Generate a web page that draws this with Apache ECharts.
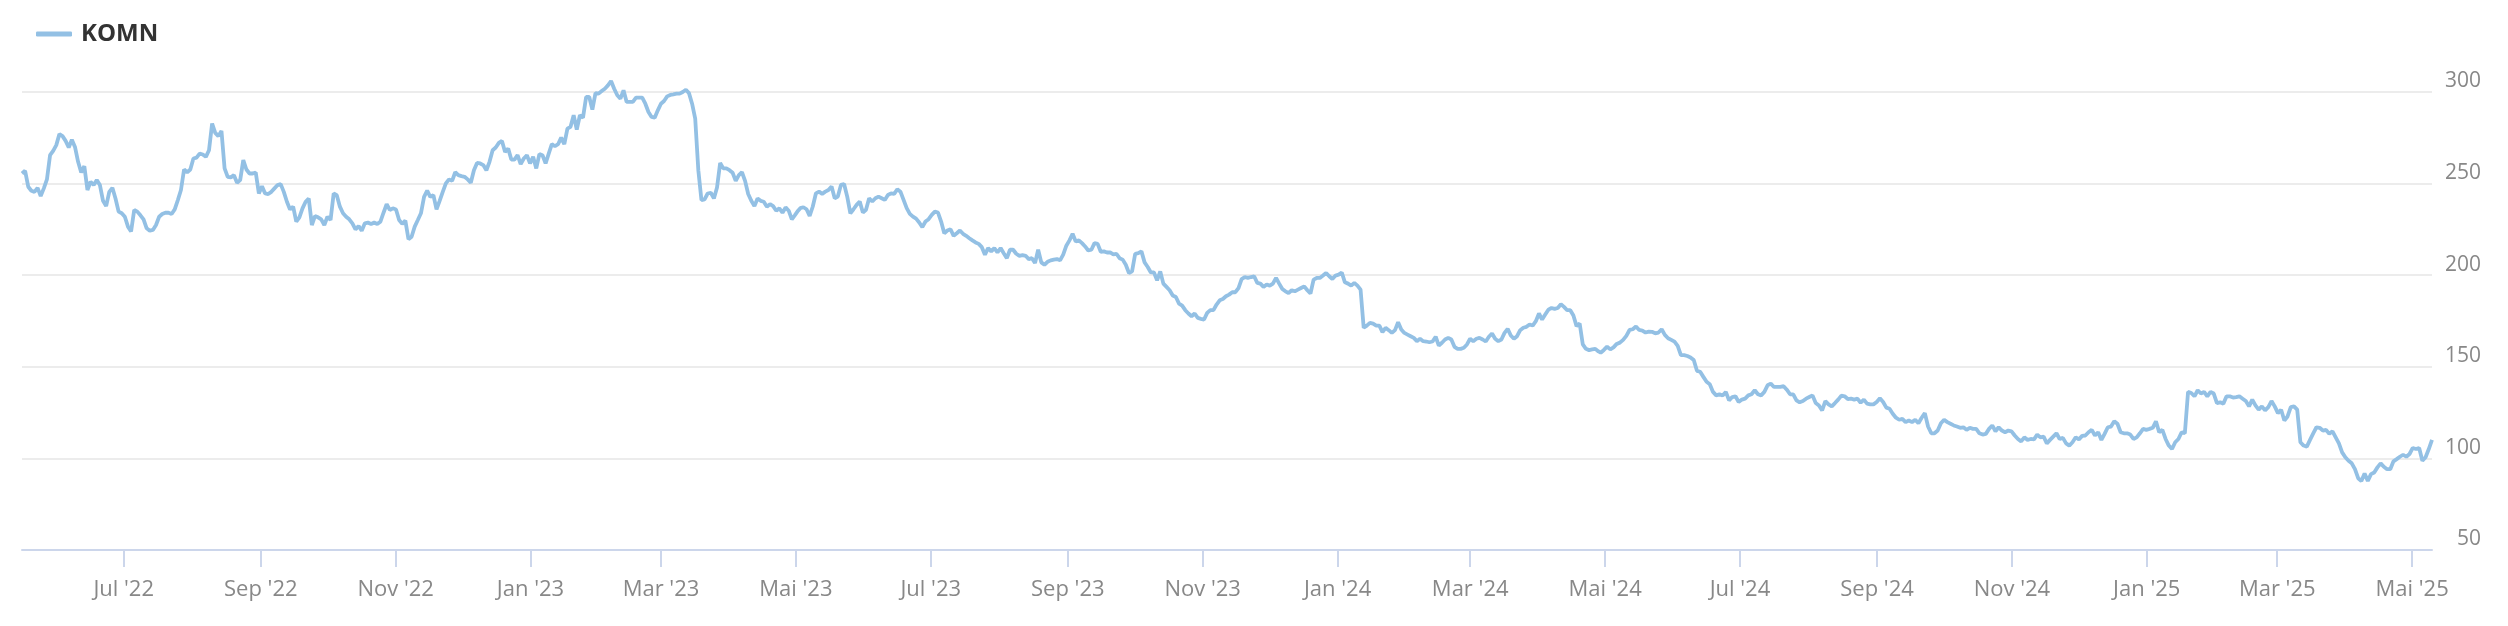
<!DOCTYPE html>
<html>
<head>
<meta charset="utf-8">
<script src="https://cdn.jsdelivr.net/npm/echarts@6/dist/echarts.min.js"></script>
<style>
  html, body { margin: 0; padding: 0; background: #ffffff; }
  #chart { width: 2508px; height: 626px; }
</style>
</head>
<body>
<div id="chart"></div>
<script>
// ---- data ----
const seriesName = 'KOMN';

// tick dates and labels for the date axis
const tickDates = ['2022-07-01','2022-09-01','2022-11-01','2023-01-01','2023-03-01','2023-05-01',
  '2023-07-01','2023-09-01','2023-11-01','2024-01-01','2024-03-01','2024-05-01',
  '2024-07-01','2024-09-01','2024-11-01','2025-01-01','2025-03-01','2025-05-01'];
const tickLabels = ["Jul '22","Sep '22","Nov '22","Jan '23","Mar '23","Mai '23",
  "Jul '23","Sep '23","Nov '23","Jan '24","Mar '24","Mai '24",
  "Jul '24","Sep '24","Nov '24","Jan '25","Mar '25","Mai '25"];

// segment date ranges (trading days spread evenly inside each segment)
const segA_start = '2022-05-16', segA_end = '2023-05-02';
const segB_start = '2023-05-03', segB_end = '2024-04-28';
const segC_start = '2024-04-29', segC_end = '2025-05-10';

const valuesA = [255.5,257,248.3,246.1,245.5,247.7,243.2,247.4,252.3,265.5,267.9,271,277,275.9,273.3,269.7,274,270,261.9,256.1,259.5,246.5,251,249.2,251.9,249.2,240.6,237.7,245.5,247.7,241.9,234.7,233.8,231.9,226.5,223.8,235.6,234.7,232.7,230.5,225.6,224.3,224.7,227.4,231.9,233.4,234.1,234.1,233.4,235.9,241,246.5,257.7,256.2,257.7,263.7,264.2,266.4,265.9,264.6,268.2,282.8,277.7,275.9,278.8,258.3,253.7,253.4,254.6,250.5,251.9,262.8,257.7,255.5,255.5,256.1,244.6,248.6,244.6,244.3,245.5,247.4,249.2,249.7,245.5,240.1,235.9,237.4,229.2,231.6,236.5,240.1,241.9,227.4,232.3,231.6,230.5,227.4,231.9,230.1,244.6,243.7,237.4,233.8,231.9,230.5,228.3,225,226.9,224.3,228.3,228.7,228,228.7,228,229.2,234.1,238.8,235.6,236.5,235.9,230.1,228,229.8,219.6,221,226.5,230.1,233.8,242.8,246.1,242.8,243.7,235.9,240.6,245.5,250.1,252.3,251.5,256.2,254.6,254.1,253.7,252.3,250.5,257.3,261.3,261,260.1,257.3,261.9,268.2,269.7,272.2,273.3,267.3,269.1,263.1,263.1,265.5,260.6,263.7,265.5,261,264.6,258.3,266.1,265.5,261,266.4,271.5,270.4,271.5,275.1,271.5,280,281,287.3,279.5,287.3,286,297.3,297.3,290.4,299.4,299.1,300.5,301.8,303.6,306,301.8,298.2,296.4,300.9,294.6,294.6,294.6,296.9,296.9,296.9,293.6,289.1,286.4,286,290,293.6,295.1,297.6,298.4,298.7,299.1,299.1,300,301.2,299.4,293.6,285.5,257.3,241,241.4,244.6,245,241.9,247.9,261.3,258.3,258.3,257.3,255.9,251.5,254.6,256.2,251.5,244.3,240.6,237.7,241.9,240.6,240.1,237.4,238.8,237.7,235.2,236.5,234.1,237,235.2,230.5,232.8,235.2];

const valuesB = [236.6,237.1,236,232.4,237.5,244.7,245.6,244.4,245.6,246.5,248.4,242,242.9,249.3,249.8,242.9,233.8,236,238.4,240.2,234.2,235.7,242,240.2,242,242.9,242,241.1,243.8,244.7,244.4,246.9,245.6,241.1,236.6,233.5,232,230.9,228.8,226.2,229.3,230.6,232.9,234.7,234.2,229.3,222.9,224.4,225.1,221.5,222.9,224.4,222.6,221.5,220.2,219,217.9,217.1,215.3,211.2,214.8,213,214.8,212.4,214.8,212,209.3,213.9,213.9,211.7,210.6,211,210.6,208.8,209.3,206.6,213.9,207,205.7,207.3,208.1,208.5,208.8,208.1,211.2,216.1,219,222.6,218.4,219,217.5,215.7,213.5,213.9,217.5,217.1,212.8,213,212.4,212.4,211.4,211.7,209.3,208.5,205.7,201.2,202.1,211.7,212,213,207,204.5,201.5,201.5,197.2,202.1,195.4,193.6,191.8,188.9,188.1,184.5,183.4,180.9,179.1,177.6,179.1,176.7,176.2,175.8,179.4,180.9,180.9,184,186.3,187,188.5,189.4,190.7,190.7,193,197.9,199,198.5,199,199.4,195.8,195.4,193.6,194.9,194.3,195.4,198.5,195.4,192.5,191.2,190.3,191.8,191.2,192.1,193,193.9,191.8,190,197.6,198.5,198.5,199.8,201.2,199.4,197.9,199.8,200.3,201.5,196.1,195.4,194.3,195.8,194.3,192.1,171.3,172.5,174,173.6,172.5,172.5,168.9,171.3,170,168.5,170,174.3,170.4,168.5,167.6,166.7,165.8,164,165.3,164,163.8,163.4,163.8,166.4,161.6,163.1,164.9,165.8,164.9,160.9,159.8,159.8,160.4,162.2,165.3,164,165.3,165.8,164.9,163.8,166.4,168.2,165.3,164,164.9,168.5,170.7,167.1,165.3,166.7,170,171.3,171.8,173.1,172.5,174.9,179.1,175.8,178.5,181.2,182.1,181.6,182.1,184.1,182.7,180.9,180.9,178,172.2,173.6,162.2,159.8,159.1,159.5,159.8,158.4];

const valuesC = [157.7,159.2,161,159.5,160.6,162.5,163.2,164.7,166.9,170.1,170.5,172,170.1,169.8,168.7,169.2,169.1,168.3,168.7,170.5,167.4,165.6,164.7,163.7,161.4,156.4,156.4,155.9,155.1,153.7,147.8,147.3,144.5,141.8,140.5,136.3,134.4,135,134.3,136.3,131.7,133.5,133.9,130.8,132.1,132.6,134.4,135,137.2,135,134.4,136.3,139.9,140.8,139,139,139,139.4,137.5,135,135,131.7,130.6,131.3,132.6,133.5,134.4,130.2,128.9,126.2,131.3,129.5,128.4,130.2,132.1,134.3,133.9,132.4,132.6,132.1,132.6,130.4,132.1,129.9,129.5,129.5,130.8,132.8,130.8,127.7,127.1,124.4,122.2,121.1,121.6,119.8,120.7,119.8,121.1,119.2,122.2,124.7,117.4,113.7,113.7,115.2,119.2,121.1,119.8,118.9,118,117.4,116.7,117,115.6,116.7,116.1,116.1,113.7,113,113.4,116.1,118,114.8,117,115.2,114.3,115.2,114.8,112.5,110.6,109.3,111.5,110.1,110.6,110.4,113,111.5,111.9,108.2,110.1,111.9,113.7,110.6,111.2,108.2,107,108.8,111.5,110.4,112.3,112.5,114.3,115.6,112.5,114.3,110.1,113.4,117,117.4,120.3,118.9,114.3,113.7,113.7,113,110.6,111.5,113.7,116.1,115.6,116.1,116.7,120.3,114.3,115.6,110.6,107,105.1,108.8,110.6,114.3,113.7,136.3,135.7,133.9,137.2,135.4,136.3,133.9,136.3,135.4,130.2,130.6,129.9,133.9,133.9,133.2,133.5,133.9,132.6,131.3,128.4,132.1,128.9,126.6,128.4,126.2,128,131.3,128.4,124.7,126.6,120.7,122.9,128,128.4,126.6,108.8,107,106.4,110.1,113.7,117,116.7,115.2,115.6,113.4,114.8,111.5,108.2,103.3,100.6,98.7,97.3,94.1,89.2,87.7,91.8,87.7,91.4,92.3,95.1,97.3,95.4,94.1,94.1,98.4,99.6,100.9,102,100.9,102.4,105.7,105.1,105.7,98.7,100.6,105.1,110.1];

const yMin = 50, yMax = 300, yStep = 50;

// ---- build ----
function ts(s) { const p = s.split('-').map(Number); return Date.UTC(p[0], p[1] - 1, p[2]); }
function spread(startStr, endStr, vals) {
  const a = ts(startStr), b = ts(endStr), n = vals.length;
  return vals.map((v, i) => [a + (b - a) * (n === 1 ? 0 : i / (n - 1)), v]);
}
const data = [].concat(
  spread(segA_start, segA_end, valuesA),
  spread(segB_start, segB_end, valuesB),
  spread(segC_start, segC_end, valuesC)
);
const tickTs = tickDates.map(ts);
const xMin = ts(segA_start), xMax = ts(segC_end);

const FONT = "'Open Sans', 'Noto Sans', sans-serif";
const LINE_COLOR = '#93c0e4';
const chart = echarts.init(document.getElementById('chart'), null, { renderer: 'canvas' });
chart.setOption({
  animation: false,
  backgroundColor: '#ffffff',
  legend: {
    data: [seriesName],
    left: 31,
    top: 17,
    icon: 'roundRect',
    itemWidth: 36,
    itemHeight: 5,
    textStyle: { fontSize: 24, fontWeight: 'bold', color: '#333333', fontFamily: FONT, padding: [0, 0, 0, 4] }
  },
  grid: { left: 22, right: 76, top: 92, bottom: 76, containLabel: false },
  xAxis: {
    type: 'value',
    min: xMin,
    max: xMax,
    axisLine: { show: true, lineStyle: { color: '#ccd6eb', width: 2 } },
    axisTick: { show: true, customValues: tickTs, length: 17, lineStyle: { color: '#ccd6eb', width: 2 } },
    axisLabel: {
      customValues: tickTs,
      margin: 29,
      fontSize: 22,
      color: '#888888',
      fontFamily: FONT,
      formatter: function (val) {
        let best = -1, bd = Infinity;
        tickTs.forEach((t, i) => { const d = Math.abs(t - val); if (d < bd) { bd = d; best = i; } });
        return bd < 86400000 ? tickLabels[best] : '';
      }
    },
    splitLine: { show: false }
  },
  yAxis: {
    type: 'value',
    position: 'right',
    min: yMin,
    max: yMax,
    interval: yStep,
    axisLine: { show: false },
    axisTick: { show: false },
    splitLine: { show: true, lineStyle: { color: '#e6e6e6', width: 1.6 } },
    axisLabel: {
      align: 'right',
      verticalAlign: 'bottom',
      margin: 49,
      padding: [0, 0, 0, 0],
      fontSize: 21,
      color: '#888888',
      fontFamily: FONT
    }
  },
  series: [{
    name: seriesName,
    type: 'line',
    data: data,
    showSymbol: false,
    symbol: 'none',
    clip: false,
    lineStyle: { width: 3.8, color: LINE_COLOR },
    itemStyle: { color: LINE_COLOR }
  }]
});
</script>
</body>
</html>
